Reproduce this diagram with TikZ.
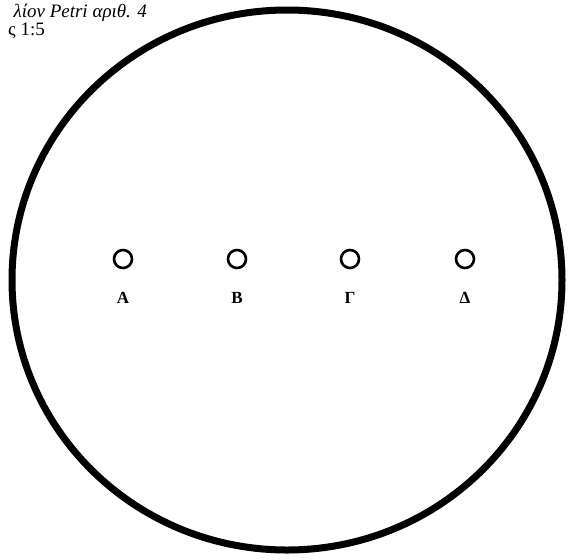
\documentclass[tikz,border=0pt]{standalone}
\usepackage{fontspec}
\setmainfont{Liberation Serif}
\usetikzlibrary{shapes.geometric}
\begin{document}
\begin{tikzpicture}[x=1pt,y=-1pt,
  place/.style={circle,draw,line width=2.6pt,minimum size=18pt,inner sep=0pt},
  plabel/.style={font=\bfseries\fontsize{17}{17}\selectfont,anchor=base},
  title/.style={font=\fontsize{19}{19}\selectfont,anchor=base east,inner sep=0pt}]
\path[use as bounding box] (0,0) rectangle (568,558);
\clip (0,0) rectangle (568,558);
\node[ellipse,draw,line width=7pt,minimum width=550pt,minimum height=540pt,inner sep=0pt] (dish) at (287,280) {};
\node[place] (A) at (123,259) {};
\node[place] (B) at (237,259) {};
\node[place] (G) at (350,259) {};
\node[place] (D) at (465,259) {};
\node[plabel] (la) at (123,303) {A};
\node[plabel] (lb) at (237,303) {B};
\node[plabel] (lg) at (350,303) {Γ};
\node[plabel] (ld) at (465,303) {Δ};
\node[title] (t1) at (147,17) {\itshape λίον Petri αριθ. 4};
\node[title] (t2) at (45,35) {ς 1:5};
\end{tikzpicture}
\end{document}
